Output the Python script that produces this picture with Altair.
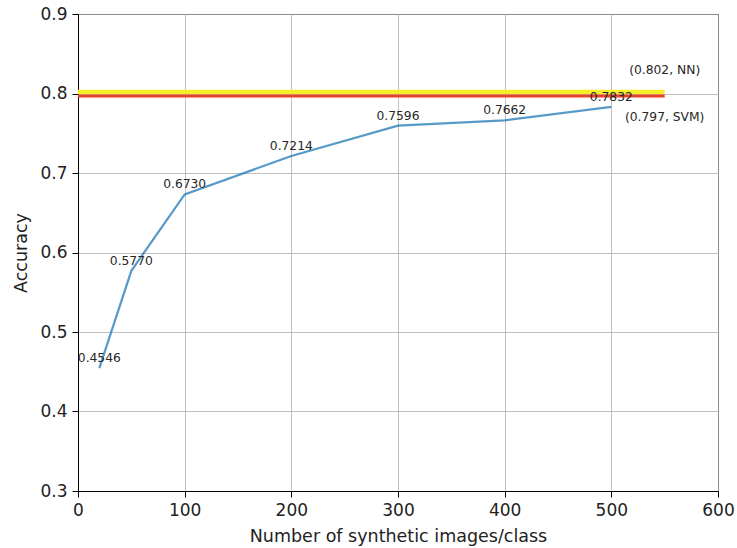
import altair as alt
import pandas as pd

# Accuracy versus number of synthetic images per class
images_per_class = [20, 50, 100, 200, 300, 400, 500]
accuracy = [0.4546, 0.5770, 0.6730, 0.7214, 0.7596, 0.7662, 0.7832]

# Reference baselines trained on real data
baseline_names = ["NN", "SVM"]
baseline_values = [0.802, 0.797]
baseline_colors = ["#f5ef2a", "#e8412b"]
baseline_widths = [4.5, 3]
baseline_x_end = 550
baseline_label_x = 550
baseline_label_y = [0.83, 0.77]

FONT = "DejaVu Sans"
AXIS_FS = 17
TITLE_FS = 17.5
NOTE_FS = 12.3

df = pd.DataFrame({"n": images_per_class, "acc": accuracy})
df["label"] = [f"{v:.4f}" for v in accuracy]

x_scale = alt.Scale(domain=[0, 600], nice=False, zero=False)
y_scale = alt.Scale(domain=[0.3, 0.9], nice=False, zero=False)

x_enc = alt.X(
    "n:Q", scale=x_scale,
    axis=alt.Axis(title="Number of synthetic images/class", values=[0, 100, 200, 300, 400, 500, 600],
                  format="d", titlePadding=9, labelFlush=False),
)
y_enc = alt.Y(
    "acc:Q", scale=y_scale,
    axis=alt.Axis(title="Accuracy", values=[0.3, 0.4, 0.5, 0.6, 0.7, 0.8, 0.9],
                  format=".1f", titlePadding=9, labelFlush=False),
)

line = alt.Chart(df).mark_line(color="#1f77b4", strokeWidth=2.2, opacity=0.75).encode(x=x_enc, y=y_enc)

labels = alt.Chart(df).mark_text(
    font=FONT, fontSize=NOTE_FS, color="#262626", baseline="alphabetic", align="center", dy=-6
).encode(x="n:Q", y="acc:Q", text="label:N")

base_layers = []
for name, val, col, w, ly in zip(baseline_names, baseline_values, baseline_colors, baseline_widths, baseline_label_y):
    bdf = pd.DataFrame({"x0": [0], "x1": [baseline_x_end], "acc": [val],
                        "lx": [baseline_label_x], "ly": [ly], "txt": [f"({val}, {name})"]})
    rule = alt.Chart(bdf).mark_rule(color=col, strokeWidth=w).encode(
        x=alt.X("x0:Q", scale=x_scale), x2="x1:Q", y=alt.Y("acc:Q", scale=y_scale)
    )
    txt = alt.Chart(bdf).mark_text(
        font=FONT, fontSize=NOTE_FS, color="#262626", align="center", baseline="middle"
    ).encode(x=alt.X("lx:Q", scale=x_scale), y=alt.Y("ly:Q", scale=y_scale), text="txt:N")
    base_layers += [rule, txt]

chart = alt.layer(line, *base_layers, labels).properties(
    width=640, height=477,
    autosize=alt.AutoSizeParams(type="none"),
    padding={"left": 78, "top": 14, "right": 19, "bottom": 57},
).configure_view(
    stroke="black", strokeWidth=1
).configure_axis(
    labelFont=FONT, titleFont=FONT, labelFontSize=AXIS_FS, titleFontSize=TITLE_FS,
    labelColor="#222222", titleColor="#222222", titleFontWeight="normal",
    grid=True, gridColor="#b0b0b0", gridWidth=0.8,
    domainColor="black", tickColor="black", tickSize=6, labelPadding=5,
)

chart.save("out.html", embed_options={"renderer": "svg", "actions": False})
